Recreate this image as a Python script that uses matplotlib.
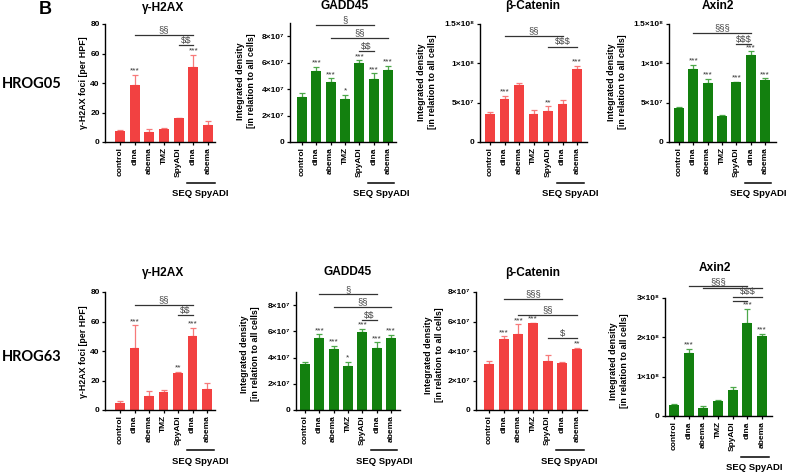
import matplotlib
matplotlib.use("Agg")
import matplotlib.pyplot as plt
from matplotlib import transforms
import numpy as np

plt.rcParams['font.family'] = ['Liberation Sans', 'DejaVu Sans']
plt.rcParams['font.weight'] = 'bold'
plt.rcParams['text.parse_math'] = False

# ---------------- data ----------------
categories = ["control", "dina", "abema", "TMZ", "SpyADI", "dina", "abema"]

# HROG05 (top row)
h2ax_05 = [7.7, 38.7, 6.5, 8.8, 16.0, 51.0, 11.3]
h2ax_05_err = [0.5, 6.8, 2.5, 0.7, 0.5, 8.0, 3.1]
gadd_05 = [34.3, 53.8, 45.7, 32.2, 59.6, 47.5, 54.6]          # x 1e6
gadd_05_err = [2.5, 3.2, 2.5, 3.3, 2.1, 4.5, 3.0]
bcat_05 = [36.0, 54.5, 72.0, 35.5, 39.7, 48.6, 93.4]          # x 1e6
bcat_05_err = [1.6, 4.5, 2.8, 5.5, 5.5, 5.1, 3.3]
axin_05 = [43.5, 93.0, 74.8, 32.5, 76.0, 111.0, 78.2]         # x 1e6
axin_05_err = [1.3, 5.4, 5.5, 1.7, 0.5, 4.3, 2.8]

# HROG63 (bottom row)
h2ax_63 = [5.0, 41.7, 9.7, 12.4, 24.8, 50.0, 14.2]
h2ax_63_err = [1.0, 15.7, 3.1, 1.1, 1.1, 5.6, 4.3]
gadd_63 = [35.0, 54.6, 46.2, 33.8, 59.6, 47.0, 55.0]          # x 1e6
gadd_63_err = [1.8, 3.0, 2.5, 3.0, 2.4, 4.5, 2.5]
bcat_63 = [31.1, 48.0, 51.8, 59.0, 33.3, 32.2, 41.2]          # x 1e6
bcat_63_err = [2.0, 2.0, 6.3, 0.3, 3.9, 0.5, 1.1]
axin_63 = [28.7, 160.6, 19.4, 38.0, 66.0, 237.5, 203.0]       # x 1e6
axin_63_err = [1.3, 9.4, 6.6, 2.6, 8.4, 35.5, 6.6]

stars_h2ax_05 = ["", "***", "", "", "", "***", ""]
stars_gadd_05 = ["", "***", "***", "*", "***", "***", "***"]
stars_bcat_05 = ["", "***", "", "", "**", "", "***"]
stars_axin_05 = ["", "***", "***", "", "***", "***", "***"]
stars_h2ax_63 = ["", "***", "", "", "**", "***", ""]
stars_gadd_63 = ["", "***", "***", "*", "***", "***", "***"]
stars_bcat_63 = ["", "***", "***", "***", "", "", "**"]
stars_axin_63 = ["", "***", "", "", "", "***", "***"]

titles = ["γ-H2AX", "GADD45", "β-Catenin", "Axin2"]
row_labels = ["HROG05", "HROG63"]

RED = "#F24141"
GREEN = "#13800F"
RED_ERR = "#F77A7A"
GREEN_ERR = "#4DA84A"

W, H = 788, 474
fig = plt.figure(figsize=(W / 100, H / 100), dpi=100)


def fy(px):
    return 1 - px / H


def sci_label(v):
    if v == 0:
        return "0"
    e = int(np.floor(np.log10(v)))
    m = v / 10 ** e
    ms = ("%g" % m)
    sup = str(e).translate(str.maketrans("0123456789", "⁰¹²³⁴⁵⁶⁷⁸⁹"))
    return "%s×10%s" % (ms, sup)


def panel(box, ylim, yticks, scale, vals, errs, stars, color, ecolor,
          brackets, ylabel, ylabel_pos, title, title_pos, seq_y):
    left, right, y0, ytop, c0, c6 = box
    ax = fig.add_axes([left / W, fy(y0), (right - left) / W, (y0 - ytop) / H])
    s = (c6 - c0) / 6.0
    xmin = -(c0 - left) / s
    xmax = 6 + (right - c6) / s
    x = np.arange(len(categories))
    v = np.array(vals) * scale
    e = np.array(errs) * scale
    ax.bar(x, v, width=0.68, color=color, zorder=2)
    ax.errorbar(x, v, yerr=[np.zeros_like(e), e], fmt='none', ecolor=ecolor,
                elinewidth=0.9, capsize=2.2, capthick=0.9, zorder=1)
    ax.set_xlim(xmin, xmax)
    ax.set_ylim(*ylim)
    ax.set_yticks(yticks)
    if scale == 1:
        ax.set_yticklabels([str(int(t)) for t in yticks])
    else:
        ax.set_yticklabels([sci_label(t) for t in yticks])
    ax.set_xticks(x)
    ax.set_xticklabels(categories, rotation=90)
    for lab in ax.get_xticklabels() + ax.get_yticklabels():
        lab.set_fontsize(6.0)
        lab.set_fontweight('bold')
    ax.tick_params(direction='out', length=2.5, width=0.9, pad=1.3)
    for sp in ['top', 'right']:
        ax.spines[sp].set_visible(False)
    for sp in ['left', 'bottom']:
        ax.spines[sp].set_linewidth(1.0)
    # stars
    for xi, (vi, ei, st) in enumerate(zip(v, e, stars)):
        if st:
            ax.annotate(st, (xi, vi + ei), xytext=(0, 0.2), textcoords='offset points',
                        ha='center', va='bottom', fontsize=6.0, fontweight='normal',
                        color='#333333')
    # brackets
    for (i, j, yb, lab) in brackets:
        ax.plot([i, j], [yb * scale, yb * scale], color='#333333', lw=0.9,
                clip_on=False, zorder=3)
        if lab:
            ax.annotate(lab, ((i + j) / 2, yb * scale), xytext=(0, 0.3),
                        textcoords='offset points', ha='center', va='bottom',
                        fontsize=6.8, fontweight='normal', color='#444444',
                        annotation_clip=False)
    # SEQ SpyADI
    tr = transforms.blended_transform_factory(ax.transData, fig.transFigure)
    ly, ty = seq_y
    ax.plot([4.6, 6.45], [fy(ly), fy(ly)], color='black', lw=1.1, transform=tr,
            clip_on=False)
    ax.text(5.5, fy(ty), "SEQ SpyADI", transform=tr, ha='center', va='center',
            fontsize=6.8, fontweight='bold')
    # labels
    fig.text(ylabel_pos[0] / W, fy(ylabel_pos[1]), ylabel, rotation=90, ha='center',
             va='center', fontsize=6.4, fontweight='bold', linespacing=1.15,
             multialignment='center')
    fig.text(title_pos[0] / W, fy(title_pos[1]), title, ha='center', va='center',
             fontsize=8.6, fontweight='bold')
    return ax


IDL = "Integrated density\n[in relation to all cells]"
HL = "γ-H2AX foci [per HPF]"

# top row
panel((105, 215, 142, 24, 120, 208), (0, 80), [0, 20, 40, 60, 80], 1,
      h2ax_05, h2ax_05_err, stars_h2ax_05, RED, RED_ERR,
      [(1, 5, 72.5, "§§"), (4, 5, 65.8, "$$")], HL, (84, 83), titles[0], (163, 8), (183, 194))
panel((290, 396, 142, 23, 302, 388), (0, 9e7), [0, 2e7, 4e7, 6e7, 8e7], 1e6,
      gadd_05, gadd_05_err, stars_gadd_05, GREEN, GREEN_ERR,
      [(1, 5, 88.8, "§"), (2, 6, 78.7, "§§"), (4, 5, 68.5, "$$")], IDL, (246, 81),
      titles[1], (345, 6), (183, 194))
panel((480, 587, 142, 24, 490, 577), (0, 1.5e8), [0, 5e7, 1e8, 1.5e8], 1e6,
      bcat_05, bcat_05_err, stars_bcat_05, RED, RED_ERR,
      [(1, 5, 134.8, "§§"), (4, 6, 121.0, "$$$")], IDL, (427, 82),
      titles[2], (533, 6), (183, 194))
panel((669, 776, 142, 24, 679, 765), (0, 1.5e8), [0, 5e7, 1e8, 1.5e8], 1e6,
      axin_05, axin_05_err, stars_axin_05, GREEN, GREEN_ERR,
      [(1, 5, 138.6, "§§§"), (4, 5, 124.5, "$$$")], IDL, (617, 82),
      titles[3], (718, 6), (183, 194))

# bottom row
panel((105, 215, 410, 292, 120, 207), (0, 80), [0, 20, 40, 60, 80], 1,
      h2ax_63, h2ax_63_err, stars_h2ax_63, RED, RED_ERR,
      [(1, 5, 71.4, "§§"), (4, 5, 64.2, "$$")], HL, (84, 352), titles[0], (163, 273), (450, 462))
panel((296, 400, 410, 292, 305, 391), (0, 9e7), [0, 2e7, 4e7, 6e7, 8e7], 1e6,
      gadd_63, gadd_63_err, stars_gadd_63, GREEN, GREEN_ERR,
      [(1, 5, 88.3, "§"), (2, 6, 78.7, "§§"), (4, 5, 68.5, "$$")], IDL, (250, 354),
      titles[1], (348, 272), (450, 462))
panel((476, 587, 410, 292, 489, 577), (0, 8e7), [0, 2e7, 4e7, 6e7, 8e7], 1e6,
      bcat_63, bcat_63_err, stars_bcat_63, RED, RED_ERR,
      [(1, 5, 75.3, "§§§"), (2, 6, 64.4, "§§"), (4, 6, 48.8, "$")], IDL, (434, 355),
      titles[2], (533, 273), (450, 462))
panel((665, 772, 416, 298, 674, 762), (0, 3e8), [0, 1e8, 2e8, 3e8], 1e6,
      axin_63, axin_63_err, stars_axin_63, GREEN, GREEN_ERR,
      [(1, 5, 330.0, "§§§"), (2, 6, 325.0, None), (4, 6, 303.0, "$$$"), (4, 5, 293.0, None)],
      IDL, (619, 361), titles[3], (715, 268), (457, 468))

fig.text(45 / W, fy(10), "B", fontsize=13, fontweight='bold', ha='center', va='center')
for lab, yy in zip(row_labels, [84, 357]):
    fig.text(2 / W, fy(yy), lab, fontsize=10.5, fontweight='bold', ha='left',
             va='center', family=['Lato', 'DejaVu Sans'])

fig.savefig("out.png", dpi=100)
